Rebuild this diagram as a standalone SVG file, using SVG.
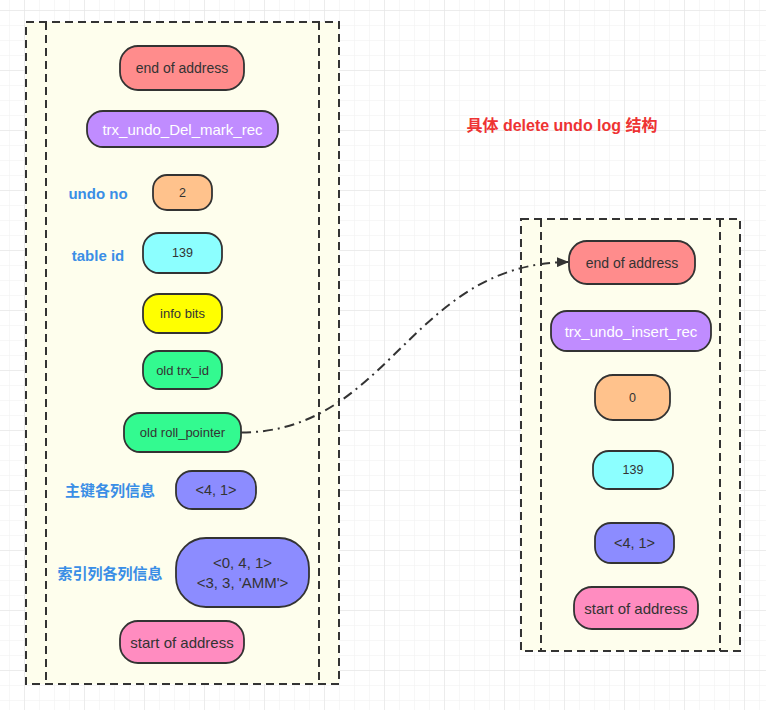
<svg xmlns="http://www.w3.org/2000/svg" width="766" height="710" viewBox="0 0 766 710">
<defs>
<pattern id="gs" x="9" y="10" width="15" height="15" patternUnits="userSpaceOnUse">
<path d="M0 0H15M0 0V15" fill="none" stroke="#efefef" stroke-width="1"/>
</pattern>
<pattern id="gl" x="24" y="10" width="60" height="60" patternUnits="userSpaceOnUse">
<path d="M0 0H60M0 0V60" fill="none" stroke="#e2e2e2" stroke-width="1"/>
</pattern>
<marker id="arr" viewBox="0 0 12 10" refX="11" refY="5" markerWidth="12" markerHeight="10" markerUnits="userSpaceOnUse" orient="auto">
<path d="M0 0L12 5L0 10Z" fill="#333"/>
</marker>
</defs>
<style>
.lane{fill:#fefeed;stroke:#333;stroke-width:2;stroke-dasharray:8 5}
.sep{fill:none;stroke:#333;stroke-width:2;stroke-dasharray:8 5}
.n{stroke:#333;stroke-width:1.8}
.t{font-family:"Liberation Sans",Arial,sans-serif;fill:#333;text-anchor:middle;dominant-baseline:central}
.w{fill:#fff}
.lbl{font-family:"Liberation Sans","Noto Sans CJK SC",sans-serif;font-weight:bold;font-size:15px;fill:#3a8ee6;text-anchor:middle;dominant-baseline:central}
.red{fill:#ff8c8c}.pur{fill:#c08cff}.ora{fill:#ffc28c}.cya{fill:#8cffff}.yel{fill:#ffff00}.grn{fill:#33fa90}.blu{fill:#8c8cff}.pnk{fill:#ff8cc0}
</style>
<rect width="766" height="710" fill="#fff"/>
<rect width="766" height="710" fill="url(#gs)"/>
<rect width="766" height="710" fill="url(#gl)"/>

<g id="lane-left">
<rect class="lane" x="26" y="22" width="313" height="662"/>
<line class="sep" x1="46" y1="22" x2="46" y2="684"/>
<line class="sep" x1="319" y1="22" x2="319" y2="684"/>
</g>
<g id="lane-right">
<rect class="lane" x="521" y="219" width="219" height="432"/>
<line class="sep" x1="541" y1="219" x2="541" y2="651"/>
<line class="sep" x1="720" y1="219" x2="720" y2="651"/>
</g>

<g id="title"><text class="lbl" x="562" y="125" style="fill:#ee3333;font-size:16px">具体 delete undo log 结构</text></g>

<g id="label-undo-no"><text class="lbl" x="98" y="193">undo no</text></g>
<g id="label-table-id"><text class="lbl" x="98" y="255">table id</text></g>
<g id="label-pk"><text class="lbl" x="110" y="490">主键各列信息</text></g>
<g id="label-idx"><text class="lbl" x="110" y="573">索引列各列信息</text></g>

<g id="l-end"><rect class="n red" x="120" y="46" width="124" height="44" rx="18"/><text class="t" x="182" y="68" font-size="14">end of address</text></g>
<g id="l-type"><rect class="n pur" x="87" y="111" width="191" height="36" rx="16"/><text class="t w" x="182.5" y="129" font-size="15">trx_undo_Del_mark_rec</text></g>
<g id="l-undono"><rect class="n ora" x="153" y="175" width="59" height="35" rx="14"/><text class="t" x="182.5" y="192.5" font-size="12.5">2</text></g>
<g id="l-tableid"><rect class="n cya" x="143" y="233" width="79" height="40" rx="16"/><text class="t" x="182.5" y="253" font-size="12.5">139</text></g>
<g id="l-info"><rect class="n yel" x="143" y="294" width="79" height="39" rx="16"/><text class="t" x="182.5" y="313.5" font-size="13">info bits</text></g>
<g id="l-trxid"><rect class="n grn" x="143" y="351" width="79" height="38" rx="16"/><text class="t" x="182.5" y="370" font-size="13">old trx_id</text></g>
<g id="l-roll"><rect class="n grn" x="124" y="413" width="117" height="39" rx="16"/><text class="t" x="182.5" y="432.5" font-size="13">old roll_pointer</text></g>
<g id="l-pk"><rect class="n blu" x="176" y="471" width="80" height="38" rx="16"/><text class="t" x="216" y="490" font-size="14.5">&lt;4, 1&gt;</text></g>
<g id="l-idx"><rect class="n blu" x="176" y="538" width="133" height="69" rx="30"/><text class="t" x="242.5" y="562" font-size="15">&lt;0, 4, 1&gt;</text><text class="t" x="242.5" y="582" font-size="15">&lt;3, 3, 'AMM'&gt;</text></g>
<g id="l-start"><rect class="n pnk" x="120" y="621" width="124" height="42" rx="18"/><text class="t" x="182" y="642" font-size="15">start of address</text></g>

<g id="r-end"><rect class="n red" x="569" y="241" width="126" height="43" rx="18"/><text class="t" x="632" y="262.5" font-size="14">end of address</text></g>
<g id="r-type"><rect class="n pur" x="551" y="311" width="160" height="40" rx="16"/><text class="t w" x="631" y="331" font-size="15">trx_undo_insert_rec</text></g>
<g id="r-undono"><rect class="n ora" x="595" y="375" width="75" height="45" rx="18"/><text class="t" x="632.5" y="397.5" font-size="12.5">0</text></g>
<g id="r-tableid"><rect class="n cya" x="593" y="451" width="80" height="38" rx="16"/><text class="t" x="633" y="470" font-size="12.5">139</text></g>
<g id="r-pk"><rect class="n blu" x="595" y="523" width="79" height="40" rx="16"/><text class="t" x="634.5" y="543" font-size="14.5">&lt;4, 1&gt;</text></g>
<g id="r-start"><rect class="n pnk" x="574" y="587" width="124" height="42" rx="18"/><text class="t" x="636" y="608" font-size="15">start of address</text></g>

<g id="connectors">
<path d="M241 432.5C390 432 410 264 568 262" fill="none" stroke="#333" stroke-width="2" stroke-dasharray="10 5 2 5" marker-end="url(#arr)"/>
</g>
</svg>
